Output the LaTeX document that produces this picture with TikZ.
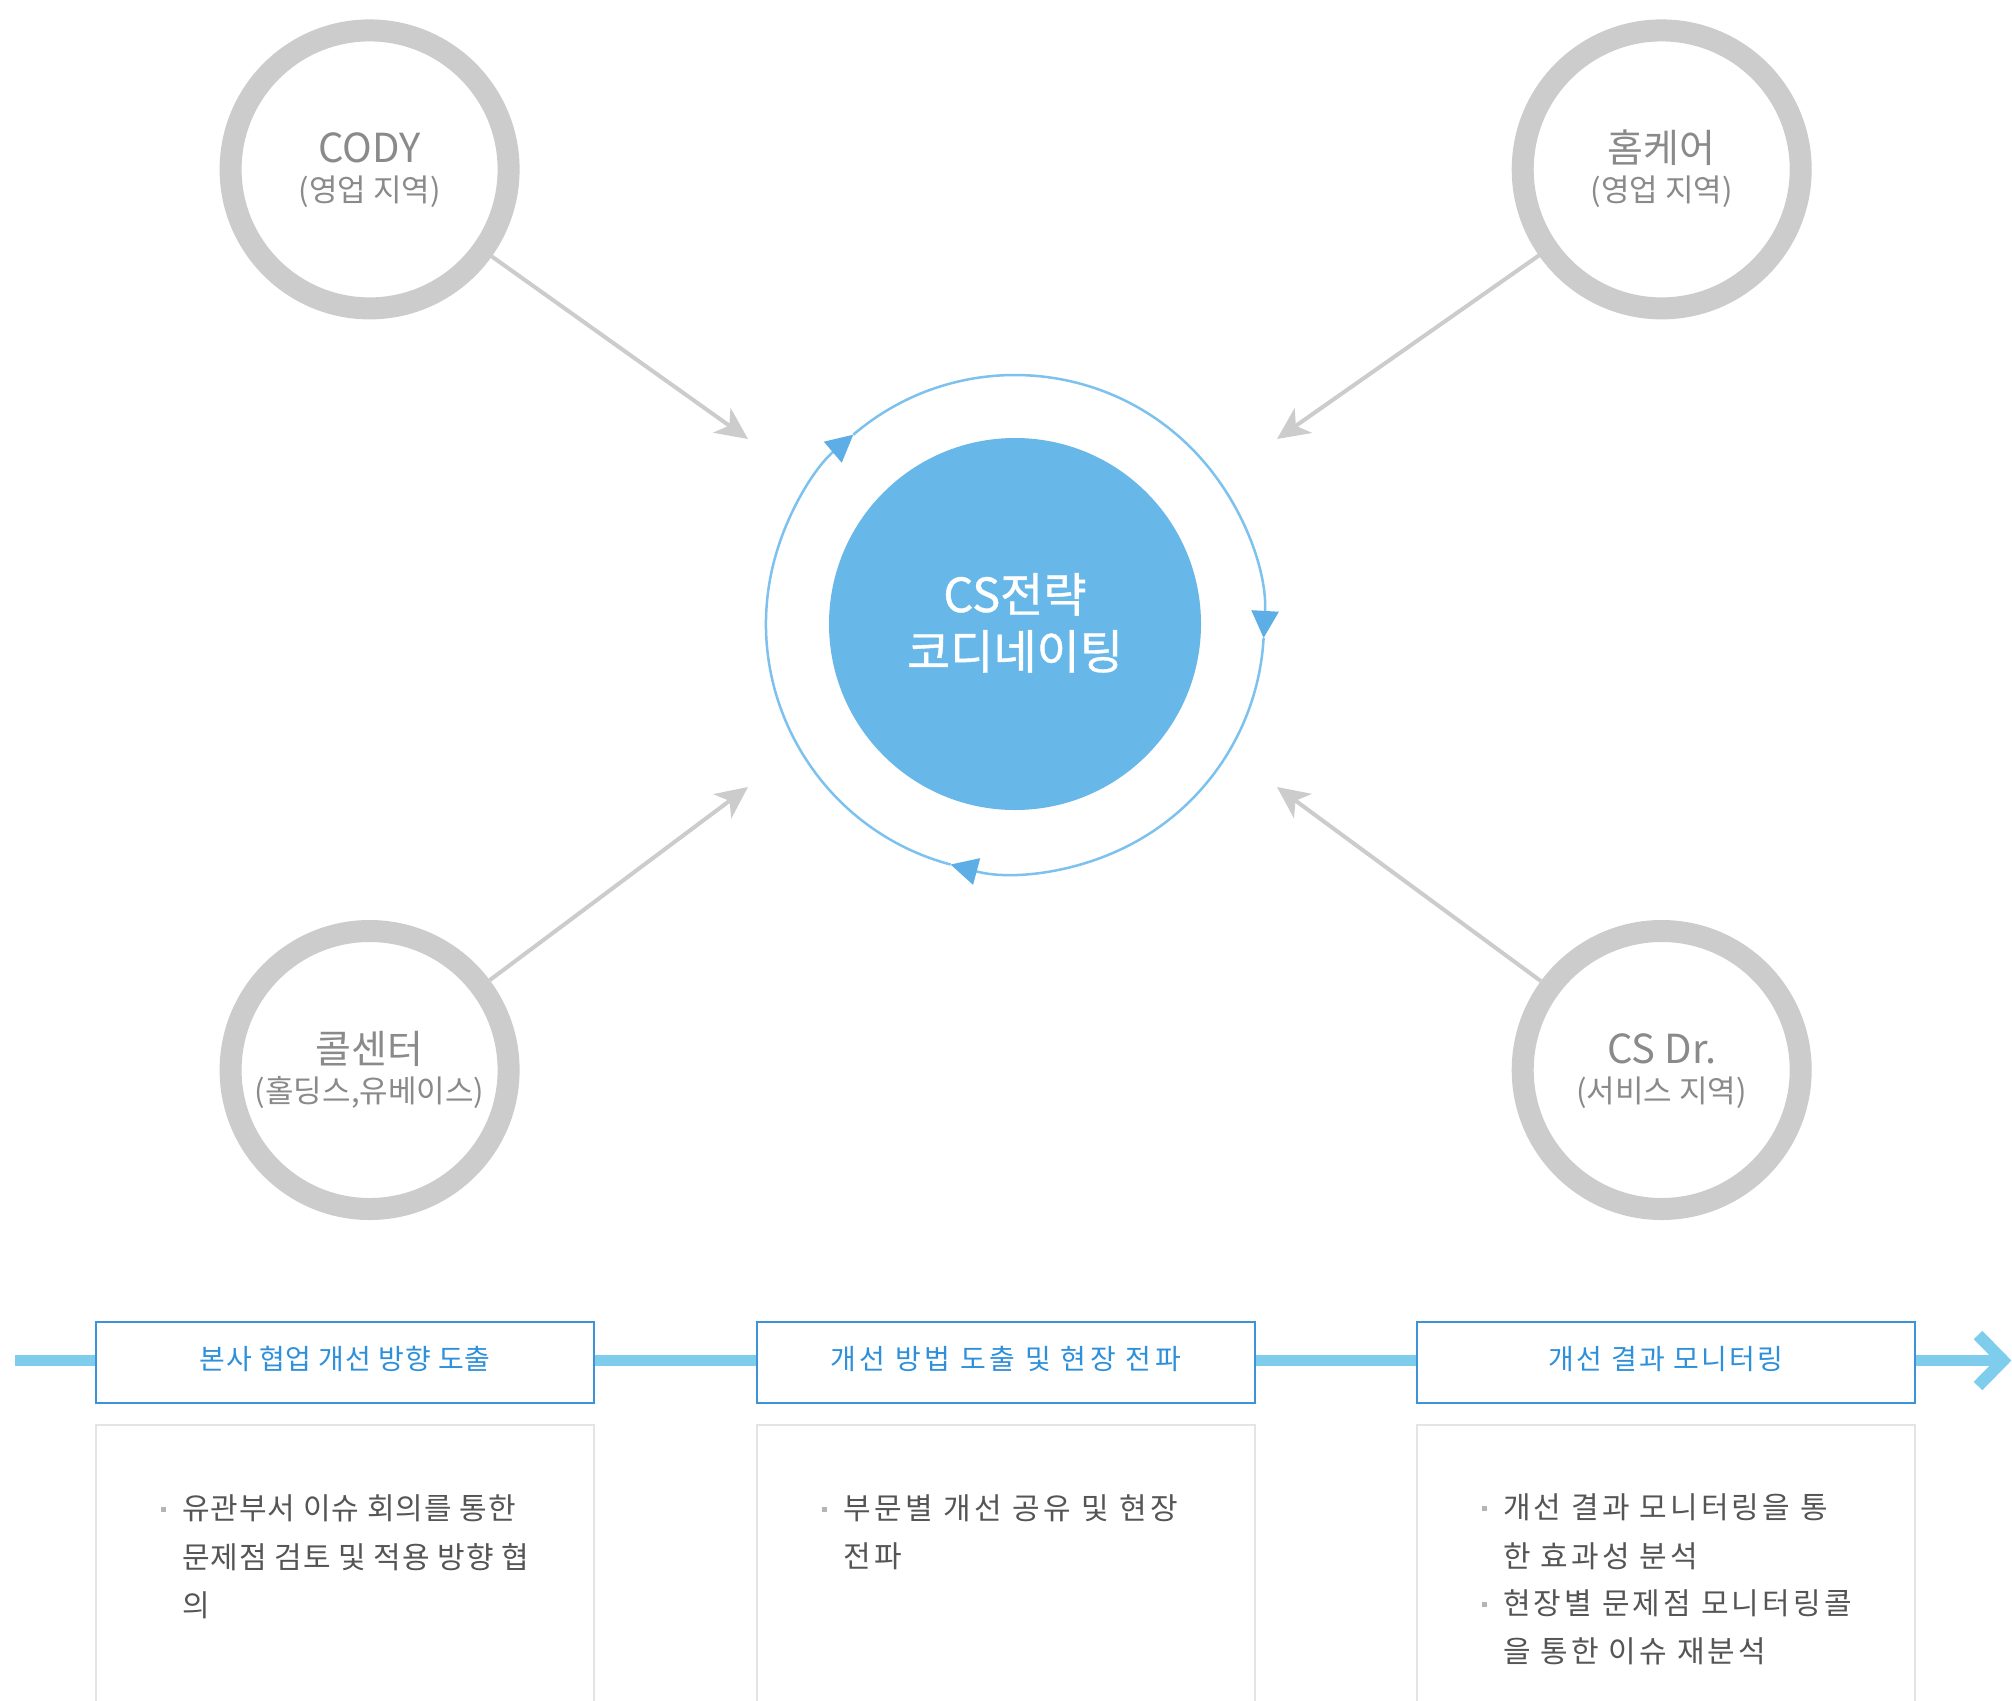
\documentclass[tikz,border=0pt]{standalone}
\usepackage{fontspec}
\setmainfont{Noto Sans CJK KR}
\newfontfamily\hdAfont[LetterSpace=3.3]{Noto Sans CJK KR}
\newfontfamily\hdBfont[LetterSpace=12.9]{Noto Sans CJK KR}
\newfontfamily\hdCfont[LetterSpace=8.3]{Noto Sans CJK KR}
\newfontfamily\bdAfont[LetterSpace=3.3]{Noto Sans CJK KR}
\newfontfamily\bdBfont[LetterSpace=12]{Noto Sans CJK KR}
\newfontfamily\bdCfont[LetterSpace=10.5]{Noto Sans CJK KR}
\newfontfamily\corefont[FakeBold=0.8]{Noto Sans CJK KR}
\usetikzlibrary{arrows.meta}
\definecolor{ringgray}{HTML}{CCCCCC}
\definecolor{labelgray}{HTML}{8A8A8A}
\definecolor{coreblue}{HTML}{67B7E8}
\definecolor{ringblue}{HTML}{7DC2EE}
\definecolor{tipblue}{HTML}{5DAEE7}
\definecolor{lineblue}{HTML}{7FCDEC}
\definecolor{hdrblue}{HTML}{3D93D7}
\definecolor{hdrtext}{HTML}{2E90DA}
\definecolor{bodyline}{HTML}{E4E4E4}
\definecolor{bodytext}{HTML}{555555}
\definecolor{bulletgray}{HTML}{B5B5B5}
\begin{document}
\begin{tikzpicture}[x=1pt,y=1pt,
  gring/.style={circle, draw=ringgray, line width=22pt, minimum size=278pt, inner sep=0pt},
  txt/.style={inner sep=0pt, anchor=base},
  titleA/.style={txt, text=labelgray, font=\fontsize{40}{40}\selectfont},
  titleH/.style={txt, text=labelgray, font=\fontsize{39}{39}\selectfont},
  subt/.style={txt, text=labelgray, font=\fontsize{31}{31}\selectfont},
  coretxt/.style={txt, text=white, font=\corefont\fontsize{47}{47}\selectfont},
  feed/.style={draw=ringgray, line width=4pt, -{Stealth[length=32pt,width=30pt,inset=9pt]}},
  cyc/.style={draw=ringblue, line width=2.5pt, -{Triangle[length=27pt,width=27pt,fill=tipblue,color=tipblue]}},
  tline/.style={draw=lineblue, line width=11pt},
  hbox/.style={draw=hdrblue, line width=2pt, fill=white, minimum width=498pt, minimum height=81pt, inner sep=0pt},
  htxt/.style={txt, text=hdrtext},
  bbox/.style={draw=bodyline, line width=2pt, fill=white, minimum width=498pt, minimum height=376pt, inner sep=0pt},
  body/.style={inner sep=0pt, anchor=base west, text=bodytext},
  bul/.style={fill=bulletgray, minimum size=5pt, inner sep=0pt}
]
\useasboundingbox (0,0) rectangle (2012,-1700);
\fill[white] (0,0) rectangle (2012,-1700);

% outer circles
\node[gring] (cody) at (369.6,-169.4) {};
\node[gring] (home) at (1661.7,-169.4) {};
\node[gring] (call) at (369.6,-1070) {};
\node[gring] (csdr) at (1661.7,-1070) {};

\node[titleA] (codyA) at (369.6,-162.4) {CODY};
\node[subt] (codyB) at (369.6,-201.2) {(영업 지역)};
\node[titleH] (homeA) at (1661.7,-162.4) {홈케어};
\node[subt] (homeB) at (1661.7,-201.2) {(영업 지역)};
\node[titleH] (callA) at (369.6,-1063.4) {콜센터};
\node[subt] (callB) at (369.6,-1102.2) {(홀딩스,유베이스)};
\node[titleA] (csdrA) at (1661.7,-1063.4) {CS Dr.};
\node[subt] (csdrB) at (1661.7,-1102.2) {(서비스 지역)};

% center
\node[circle, fill=coreblue, minimum size=372pt, inner sep=0pt] (core) at (1015,-624) {};
\node[coretxt] (coreA) at (1015,-612) {CS전략};
\node[coretxt] (coreB) at (1015,-669) {코디네이팅};

% cycle ring
\coordinate (C) at (1015,-624);
\draw[cyc] ([shift={(130.5:249)}]C) arc[start angle=130.5, end angle=-3.2, radius=249];
\draw[cyc] ([shift={(-3.2:249)}]C) arc[start angle=-3.2, end angle=-105, radius=249];
\draw[cyc] ([shift={(-105:249)}]C) arc[start angle=-105, end angle=-229.5, radius=249];

% feed arrows
\coordinate (t1) at (748,-439);
\coordinate (t2) at (1277,-439);
\coordinate (t3) at (748,-787);
\coordinate (t4) at (1277,-787);
\draw[feed] (cody) -- (t1);
\draw[feed] (home) -- (t2);
\draw[feed] (call) -- (t3);
\draw[feed] (csdr) -- (t4);

% timeline
\coordinate (tl0) at (15,-1360.5);
\coordinate (tl1) at (2000,-1360.5);
\draw[tline] (tl0) -- (tl1);
\coordinate (chA) at (1978,-1335);
\coordinate (chT) at (2003,-1360.5);
\coordinate (chB) at (1978,-1386);
\draw[tline, line width=12pt, miter limit=10] (chA) -- (chT) -- (chB);

\node[hbox] (h1) at (345,-1362.5) {};
\node[hbox] (h2) at (1005.5,-1362.5) {};
\node[hbox] (h3) at (1666,-1362.5) {};
\node[htxt, font=\hdAfont\fontsize{28}{28}\selectfont] (h1t) at (345,-1369) {본사 협업 개선 방향 도출};
\node[htxt, font=\hdBfont\fontsize{28}{28}\selectfont] (h2t) at (1005.5,-1369) {개선 방법 도출 및 현장 전파};
\node[htxt, font=\hdCfont\fontsize{28}{28}\selectfont] (h3t) at (1666,-1369) {개선 결과 모니터링};

\node[bbox] (p1) at (345,-1613) {};
\node[bbox] (p2) at (1005.5,-1613) {};
\node[bbox] (p3) at (1666,-1613) {};

\begin{scope}[every node/.append style={font=\bdAfont\fontsize{30}{30}\selectfont}]
\node[bul] (u1) at (163,-1509) {};
\node[body] (p1a) at (182,-1519.8) {유관부서 이슈 회의를 통한};
\node[body] (p1b) at (182,-1568.8) {문제점 검토 및 적용 방향 협};
\node[body] (p1c) at (182,-1616.8) {의};
\end{scope}

\begin{scope}[every node/.append style={font=\bdBfont\fontsize{30}{30}\selectfont}]
\node[bul] (u2) at (824,-1509) {};
\node[body] (p2a) at (843,-1519.8) {부문별 개선 공유 및 현장};
\node[body] (p2b) at (843,-1567.8) {전파};
\end{scope}

\begin{scope}[every node/.append style={font=\bdCfont\fontsize{30}{30}\selectfont}]
\node[bul] (u3) at (1484,-1508) {};
\node[body] (p3a) at (1503,-1518.8) {개선 결과 모니터링을 통};
\node[body] (p3b) at (1503,-1567.8) {한 효과성 분석};
\node[bul] (u4) at (1484,-1604) {};
\node[body] (p3c) at (1503,-1614.8) {현장별 문제점 모니터링콜};
\node[body] (p3d) at (1503,-1662.8) {을 통한 이슈 재분석};
\end{scope}
\end{tikzpicture}
\end{document}
